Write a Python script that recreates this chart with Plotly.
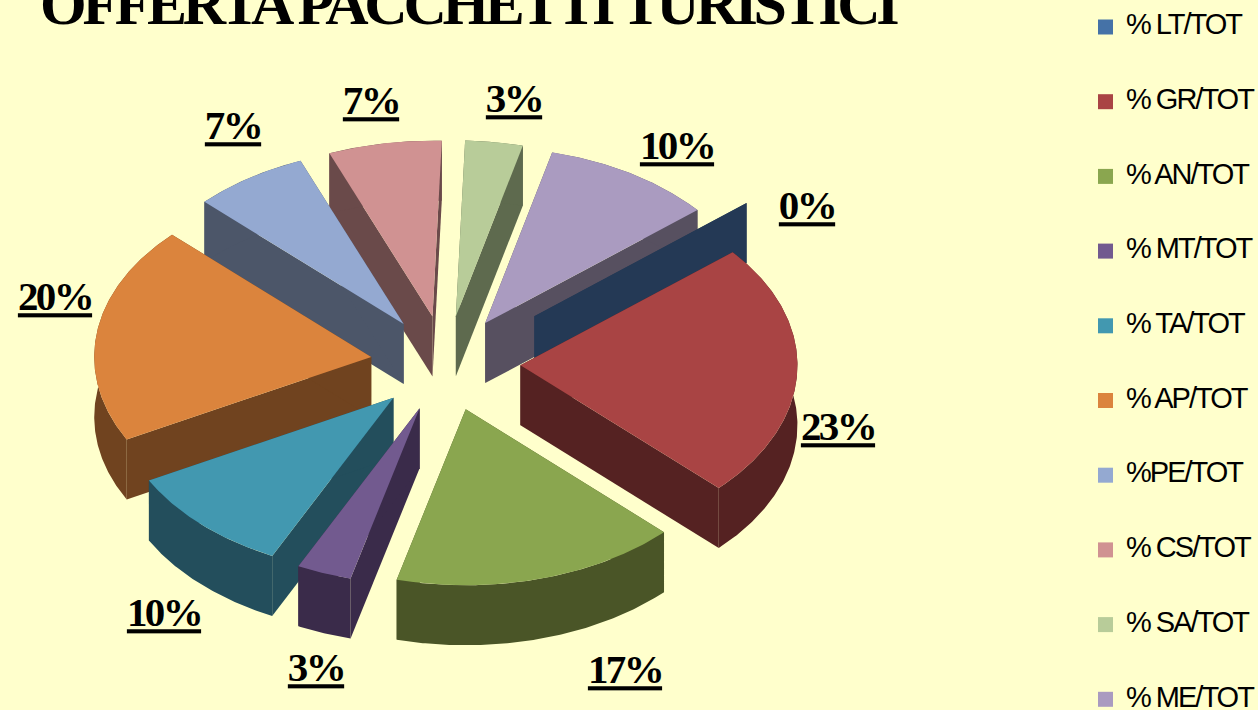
import math
import plotly.graph_objects as go

# ---- data ----
CATEGORIES = ["% LT/TOT", "% GR/TOT", "% AN/TOT", "% MT/TOT", "% TA/TOT",
              "% AP/TOT", "%PE/TOT", "% CS/TOT", "% SA/TOT", "% ME/TOT"]
VALUES = [0.0, 23.4, 16.7, 3.2, 10.0, 20.0, 6.7, 6.6, 3.35, 10.0]
TITLE = "OFFERTA PACCHETTI TURISTICI"

# ---- styling ----
TOP_COLORS = ["#4572A7", "#A94444", "#8AA64F", "#725A8F", "#4298B0",
              "#DB843D", "#94A9D1", "#D09292", "#B8CC99", "#AA9BC0"]
WALL_COLORS = ["#243955", "#552222", "#4A5527", "#3A2B4A", "#234E5C",
               "#70431F", "#4C5669", "#6A4A4A", "#5E6A4E", "#575060"]
EXPLODE = [116, 75, 75, 75, 75, 75, 75, 75, 75, 75]
DRAW_ORDER = [9, 8, 7, 6, 0, 5, 4, 3, 2, 1]
LABEL_POS = [(807, 209), (838, 430), (625, 673), (316, 671), (164, 616),
             (55, 300), (233, 129), (371, 104), (514, 102), (677, 149)]
BG = "#FFFFCC"
CX, CY, R, TILT, DEPTH, START = 445.5, 363.5, 277.0, 0.635, 60.0, 50.0
LEGEND_X, LEGEND_TEXT_X, LEGEND_Y0, LEGEND_STEP = 1105.5, 1126, 27.0, 74.7


def project(angle, radius, ox=0.0, oy=0.0):
    a = math.radians(angle)
    return ox + radius * math.sin(a), oy - radius * TILT * math.cos(a)


def poly(fig, pts, color):
    xs = [p[0] for p in pts] + [pts[0][0]]
    ys = [p[1] for p in pts] + [pts[0][1]]
    fig.add_trace(go.Scatter(x=xs, y=ys, mode="lines", fill="toself", fillcolor=color,
                             line=dict(width=0, color=color), hoverinfo="skip",
                             showlegend=False))


fig = go.Figure()

total = sum(VALUES)
spans = []
cur = START
for v in VALUES:
    sweep = 360.0 * v / total
    spans.append((cur, cur + sweep))
    cur += sweep

for i in DRAW_ORDER:
    a0, a1 = spans[i]
    ox, oy = project((a0 + a1) / 2, EXPLODE[i])
    ox += CX
    oy += CY
    n = max(2, int(a1 - a0) * 2)
    arc = [project(a0 + (a1 - a0) * j / n, R, ox, oy) for j in range(n + 1)]
    low = [(x, y + DEPTH) for x, y in arc]
    apex, apex_low = (ox, oy), (ox, oy + DEPTH)
    poly(fig, [apex, arc[0], low[0], apex_low], WALL_COLORS[i])
    poly(fig, [apex, arc[-1], low[-1], apex_low], WALL_COLORS[i])
    poly(fig, arc + low[::-1], WALL_COLORS[i])
    if VALUES[i] > 0:
        poly(fig, [apex] + arc, TOP_COLORS[i])

# percentage labels
fig.add_trace(go.Scatter(
    x=[p[0] for p in LABEL_POS], y=[p[1] for p in LABEL_POS], mode="text",
    text=[f"{round(v)}%" for v in VALUES], textposition="middle center",
    textfont=dict(family="Liberation Serif", size=41, color="#000000", weight="bold",
                  lineposition="under"),
    hoverinfo="skip", showlegend=False))

# legend column
ys = [LEGEND_Y0 + LEGEND_STEP * i for i in range(len(CATEGORIES))]
fig.add_trace(go.Scatter(
    x=[LEGEND_X] * len(ys), y=ys, mode="markers",
    marker=dict(symbol="square", size=15, color=TOP_COLORS, line=dict(width=0)),
    hoverinfo="skip", showlegend=False))
fig.add_trace(go.Scatter(
    x=[LEGEND_TEXT_X] * len(ys), y=ys, mode="text", text=CATEGORIES,
    textposition="middle right",
    textfont=dict(family="Liberation Sans", size=29, color="#000000"),
    hoverinfo="skip", showlegend=False))

# title
fig.add_annotation(x=467, y=4, xref="x", yref="y", text=TITLE, showarrow=False,
                   xanchor="center", yanchor="middle",
                   font=dict(family="Liberation Serif", size=60, color="#000000", weight="bold"))

fig.update_layout(
    width=1258, height=710, margin=dict(l=0, r=0, t=0, b=0),
    paper_bgcolor=BG, plot_bgcolor=BG, showlegend=False,
    xaxis=dict(range=[0, 1258], visible=False, fixedrange=True),
    yaxis=dict(range=[710, 0], visible=False, fixedrange=True),
)

POST = """
document.body.style.margin = '0';
document.body.style.background = '#FFFFCC';
document.documentElement.style.overflow = 'hidden';
document.querySelectorAll('.textpoint text').forEach(function (t) {
  t.style.letterSpacing = t.textContent.indexOf('TOT') >= 0 ? '-2px' : '-2.6px';
});
document.querySelectorAll('.annotation-text').forEach(function (t) { t.style.letterSpacing = '-4.3px'; });
"""
fig.write_html("out.html", post_script=POST, config=dict(displayModeBar=False))
